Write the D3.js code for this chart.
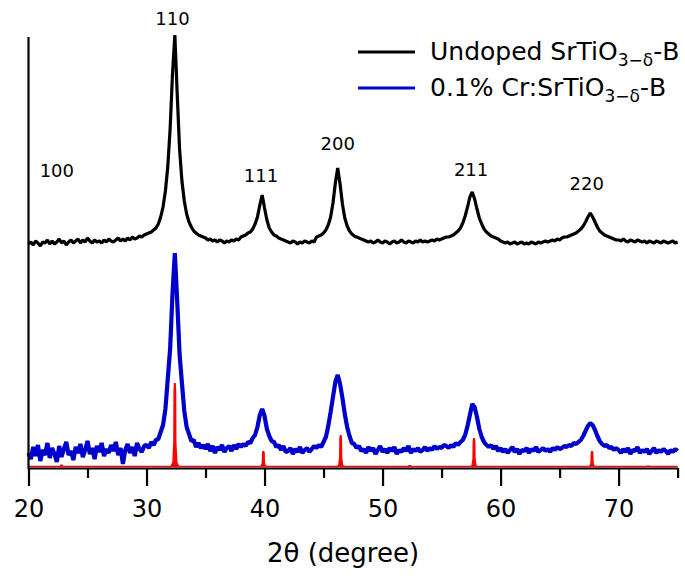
<!DOCTYPE html>
<html>
<head>
<meta charset="utf-8">
<script src="https://cdn.jsdelivr.net/npm/d3@7"></script>
<style>
  body { margin: 0; background: #fff; }
  svg { display: block; }
  text { font-family: "DejaVu Sans", sans-serif; fill: #000; }
</style>
</head>
<body>
<svg id="chart" width="685" height="579"></svg>
<script>
// scan grid: 20.0 .. 75.0 deg, 0.2 deg step
const THETA_START = 20;
const THETA_STEP = 0.2;

// undoped SrTiO3-d-B, raw intensity (a.u.)
const undoped = [
  15, 17, 14, 18, 16, 13, 17, 16, 19, 15,
  18, 15, 17, 20, 16, 18, 14, 17, 19, 16,
  18, 20, 16, 19, 17, 21, 18, 16, 19, 17,
  18, 16, 19, 17, 20, 18, 17, 19, 21, 18,
  20, 18, 21, 19, 22, 20, 21, 23, 22, 24,
  25, 26, 27, 29, 31, 35, 42, 52, 68, 92,
  130, 185, 224, 165, 110, 78, 58, 45, 37, 32,
  28, 26, 24, 23, 22, 21, 19, 20, 18, 19,
  17, 19, 18, 16, 18, 17, 19, 18, 20, 19,
  22, 23, 24, 26, 27, 30, 35, 42, 54, 64,
  51, 39, 31, 27, 24, 23, 21, 20, 19, 18,
  17, 16, 18, 17, 15, 17, 16, 18, 17, 16,
  18, 17, 22, 23, 24, 26, 29, 34, 42, 56,
  76, 91, 75, 55, 41, 33, 28, 25, 23, 22,
  21, 20, 19, 18, 17, 18, 16, 17, 19, 17,
  16, 18, 17, 15, 17, 18, 16, 17, 19, 17,
  16, 18, 17, 16, 18, 17, 19, 17, 18, 17,
  18, 19, 18, 20, 19, 20, 21, 22, 22, 23,
  24, 26, 28, 31, 36, 43, 52, 62, 67, 60,
  50, 41, 35, 30, 27, 25, 23, 22, 21, 20,
  18, 17, 16, 17, 15, 16, 17, 15, 16, 17,
  15, 16, 15, 17, 16, 15, 17, 16, 17, 18,
  17, 18, 19, 18, 20, 19, 21, 22, 22, 23,
  24, 25, 26, 28, 30, 33, 37, 42, 46, 42,
  37, 32, 28, 26, 24, 23, 22, 21, 20, 19,
  19, 18, 20, 18, 17, 19, 18, 17, 19, 18,
  17, 18, 16, 18, 17, 16, 18, 17, 16, 18,
  17, 16, 17, 18, 16, 17
];
const UNDOPED_OFFSET = 208;

// 0.1% Cr:SrTiO3-d-B, raw intensity (a.u.)
const crDoped = [
  14, 8, 20, 11, 22, 6, 17, 12, 24, 9,
  19, 13, 5, 21, 10, 18, 25, 12, 16, 7,
  20, 14, 23, 10, 17, 26, 13, 19, 8, 21,
  15, 24, 11, 18, 14, 22, 16, 25, 12, 19,
  3, 17, 23, 14, 20, 11, 24, 18, 15, 21,
  22, 19, 25, 22, 27, 28, 35, 42, 58, 88,
  118, 173, 214, 166, 113, 84, 56, 40, 33, 26,
  27, 20, 24, 19, 22, 18, 23, 16, 21, 14,
  20, 17, 22, 15, 19, 21, 16, 22, 18, 23,
  20, 23, 21, 25, 24, 29, 32, 40, 52, 58,
  51, 38, 31, 26, 25, 20, 22, 17, 21, 15,
  16, 19, 13, 18, 15, 20, 14, 17, 19, 15,
  18, 21, 19, 22, 20, 25, 30, 41, 55, 70,
  85, 92, 83, 69, 53, 40, 31, 24, 23, 19,
  21, 16, 18, 14, 20, 16, 19, 13, 17, 21,
  15, 18, 14, 19, 16, 20, 13, 17, 15, 19,
  16, 21, 14, 18, 16, 19, 15, 17, 20, 16,
  19, 17, 21, 18, 20, 19, 22, 21, 19, 22,
  20, 24, 22, 25, 27, 32, 41, 52, 63, 60,
  50, 38, 30, 25, 22, 20, 22, 18, 21, 16,
  19, 15, 18, 14, 17, 20, 15, 18, 13, 17,
  16, 19, 14, 18, 16, 20, 15, 17, 19, 16,
  18, 15, 19, 17, 20, 18, 19, 21, 20, 22,
  21, 24, 23, 25, 27, 31, 36, 41, 44, 42,
  37, 31, 26, 23, 21, 22, 19, 20, 17, 19,
  17, 14, 18, 15, 19, 13, 17, 16, 20, 14,
  17, 15, 18, 13, 16, 19, 14, 17, 15, 18,
  16, 13, 17, 15, 18, 16
];

// reference pattern (red sticks)
const refTheta = [22.8, 32.4, 39.9, 46.45, 52.3, 57.75, 67.75, 72.5];
const refIntensity = [2.5, 84, 16, 32, 2, 29, 16, 1.5];

// hkl labels: peak angle and intensity level where label sits
const hklLabels = ['100', '110', '111', '200', '211', '220'];
const hklTheta = [22.4, 32.2, 39.7, 46.2, 57.5, 67.3];
const hklLevel = [290, 442, 285, 317, 291, 277];

const majorTicks = [20, 30, 40, 50, 60, 70];
const minorTicks = [25, 35, 45, 55, 65, 75];

const seriesNames = ['Undoped SrTiO', '0.1% Cr:SrTiO'];
const seriesColors = ['#000000', '#0000cc'];

const svg = d3.select('#chart');

const x = d3.scaleLinear().domain([20, 75]).range([28.5, 677.6]);
const y = d3.scaleLinear().domain([0, 432]).range([467, 35]);

const theta = undoped.map((_, i) => THETA_START + i * THETA_STEP);

function traceLine(offset) {
  return d3.line()
    .x((d, i) => x(theta[i]))
    .y(d => y(d + offset));
}

svg.append('path')
  .datum(undoped)
  .attr('fill', 'none')
  .attr('stroke', seriesColors[0])
  .attr('stroke-width', 3.2)
  .attr('stroke-linejoin', 'bevel')
  .attr('d', traceLine(UNDOPED_OFFSET));

svg.append('path')
  .datum(crDoped)
  .attr('fill', 'none')
  .attr('stroke', seriesColors[1])
  .attr('stroke-width', 4.2)
  .attr('stroke-linejoin', 'bevel')
  .attr('d', traceLine(0));

// reference sticks
svg.append('line')
  .attr('x1', x(20)).attr('x2', x(75))
  .attr('y1', y(0) - 0.5).attr('y2', y(0) - 0.5)
  .attr('stroke', '#ff0000')
  .attr('stroke-width', 1.5);

const stickShape = [[-0.4, 0], [-0.22, 0.06], [-0.14, 0.3], [-0.12, 0.9], [-0.08, 1],
                    [0.08, 1], [0.12, 0.9], [0.14, 0.3], [0.22, 0.06], [0.4, 0]];
const stickLine = d3.line();

svg.append('g')
  .selectAll('path')
  .data(refTheta.map((t, i) => ({ t, v: refIntensity[i] })))
  .enter().append('path')
  .attr('fill', '#ff0000')
  .attr('d', d => stickLine(stickShape.map(p => [x(d.t + p[0]), y(d.v * p[1])])) + 'Z');

// axes
const xAxis = svg.append('g')
  .attr('transform', `translate(0,${y(0) + 1})`)
  .call(d3.axisBottom(x).tickValues(majorTicks).tickSize(18).tickSizeOuter(0).tickFormat(d3.format('d')));

xAxis.select('.domain').attr('stroke', '#000').attr('stroke-width', 2.2);
xAxis.selectAll('.tick line').attr('stroke', '#000').attr('stroke-width', 2.2);
xAxis.selectAll('.tick text')
  .attr('y', 32)
  .style('font-family', '"DejaVu Sans", sans-serif')
  .style('font-size', '24px')
  .attr('fill', '#000');

const xMinor = svg.append('g')
  .attr('transform', `translate(0,${y(0) + 1})`)
  .call(d3.axisBottom(x).tickValues(minorTicks).tickSize(10).tickSizeOuter(0).tickFormat(''));
xMinor.select('.domain').remove();
xMinor.selectAll('.tick line').attr('stroke', '#000').attr('stroke-width', 2.2);

svg.append('line')
  .attr('x1', x(20)).attr('x2', x(20))
  .attr('y1', y(432) + 2).attr('y2', y(0) + 2)
  .attr('stroke', '#000')
  .attr('stroke-width', 2.2);

svg.append('text')
  .attr('x', 343)
  .attr('y', 562)
  .attr('text-anchor', 'middle')
  .style('font-size', '26px')
  .text('2θ (degree)');

// hkl labels
svg.append('g')
  .selectAll('text')
  .data(hklLabels)
  .enter().append('text')
  .attr('x', (d, i) => x(hklTheta[i]))
  .attr('y', (d, i) => y(hklLevel[i]))
  .attr('text-anchor', 'middle')
  .style('font-size', '18px')
  .text(d => d);

// legend
const legend = svg.append('g');
seriesNames.forEach((name, i) => {
  const ly = 52 + i * 36;
  legend.append('line')
    .attr('x1', 358).attr('x2', 415)
    .attr('y1', ly).attr('y2', ly)
    .attr('stroke', seriesColors[i])
    .attr('stroke-width', 2.8);
  const t = legend.append('text')
    .attr('x', 430)
    .attr('y', ly + 8)
    .style('font-size', '25px');
  t.append('tspan').text(name);
  t.append('tspan').attr('dy', 6).style('font-size', '17px').text('3−δ');
  t.append('tspan').attr('dy', -6).text('-B');
});
</script>
</body>
</html>
